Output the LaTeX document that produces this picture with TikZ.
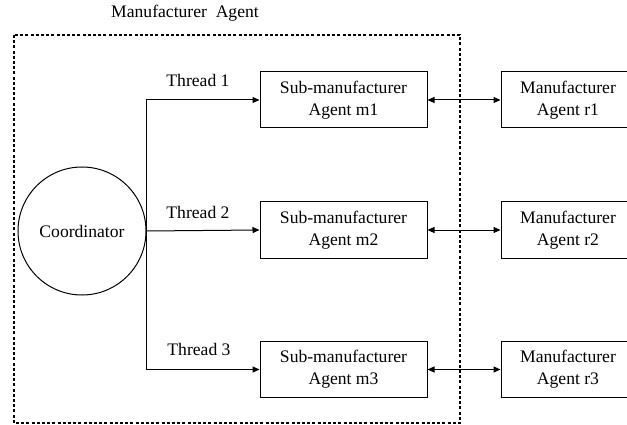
\documentclass[tikz,border=0pt]{standalone}
\usepackage{fontspec}
\setmainfont{Liberation Serif}
\usetikzlibrary{arrows.meta}
\begin{document}
\begin{tikzpicture}[x=1pt,y=-1pt,
  every node/.style={font=\fontsize{17.6}{22}\selectfont, inner sep=0pt},
  box/.style={draw, line width=1pt, minimum width=167pt, minimum height=56pt, align=center},
  rbox/.style={draw, line width=1pt, minimum width=134pt, minimum height=56pt, align=center},
  arr/.style={line width=1pt, -{Triangle[length=7pt,width=6pt]}},
  darr/.style={line width=1pt, {Triangle[length=7pt,width=6pt]}-{Triangle[length=7pt,width=6pt]}},
  outer/.style={line width=2pt, dash pattern=on 3pt off 2.2pt}]
\useasboundingbox (0,0) rectangle (627,425);
\clip (0,0) rectangle (627,425);
\node (title) at (185,13) {Manufacturer\ \ Agent};
\draw[outer] (14,35) rectangle (460,423);
\node[draw, circle, line width=1pt, minimum size=128pt] (c) at (82,231) {Coordinator};
\node[box] (m1) at (343.5,100) {Sub-manufacturer\\Agent m1};
\node[box] (m2) at (343.5,230) {Sub-manufacturer\\Agent m2};
\node[box] (m3) at (343.5,369.5) {Sub-manufacturer\\Agent m3};
\node[rbox] (r1) at (568,100) {Manufacturer\\Agent r1};
\node[rbox] (r2) at (568,230) {Manufacturer\\Agent r2};
\node[rbox] (r3) at (568,369.5) {Manufacturer\\Agent r3};
\node (t1) at (198,80) {Thread 1};
\node (t2) at (198,212) {Thread 2};
\node (t3) at (199,349) {Thread 3};
\draw[arr] (c.east) |- (m1.west);
\draw[arr] (c.east) -- (m2.west);
\draw[arr] (c.east) |- (m3.west);
\draw[darr] (m1.east) -- (r1.west);
\draw[darr] (m2.east) -- (r2.west);
\draw[darr] (m3.east) -- (r3.west);
\end{tikzpicture}
\end{document}
